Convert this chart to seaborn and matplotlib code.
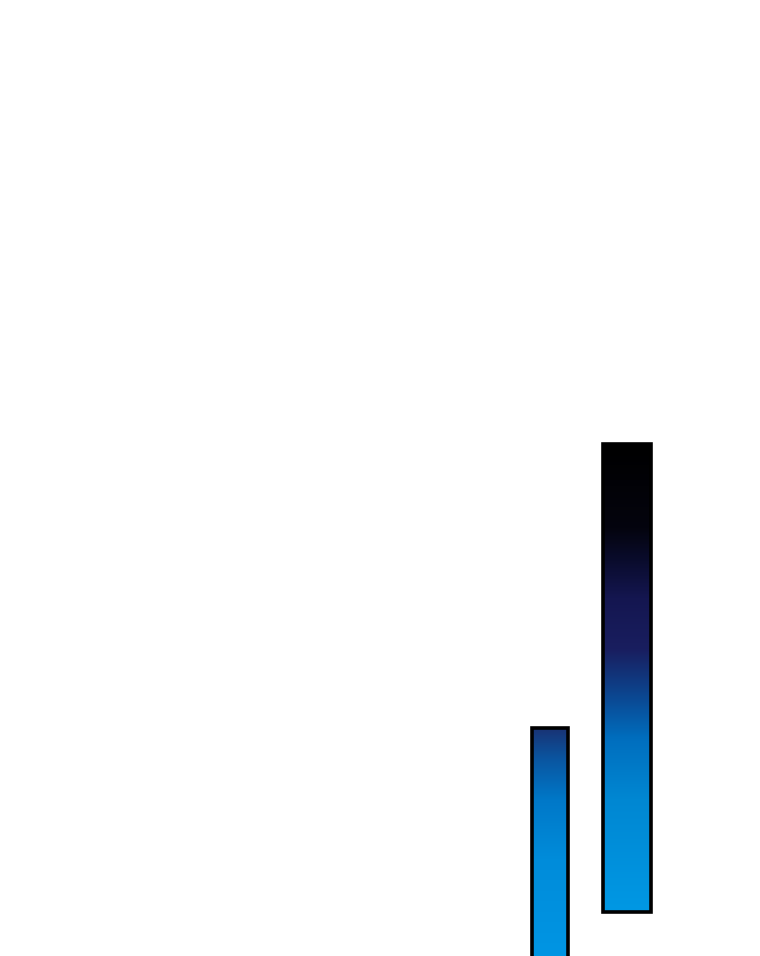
import numpy as np
import matplotlib
matplotlib.use("Agg")
import matplotlib.pyplot as plt
import seaborn as sns
from matplotlib.colors import LinearSegmentedColormap

# Données : barres flottantes (bas / haut)
categories = ["A", "B"]
lows = [-3.0, 4.4]
highs = [22.8, 51.2]

# Style
bar_widths = [0.46, 0.62]
cmap_a = LinearSegmentedColormap.from_list("a", [
    (0.00, (25/255, 50/255, 115/255)),
    (0.12, (10/255, 85/255, 160/255)),
    (0.28, (0/255, 120/255, 200/255)),
    (0.51, (0/255, 140/255, 218/255)),
    (1.00, (0/255, 152/255, 230/255)),
])
cmap_b = LinearSegmentedColormap.from_list("b", [
    (0.00, (0, 0, 0)),
    (0.18, (4/255, 4/255, 14/255)),
    (0.25, (10/255, 12/255, 45/255)),
    (0.33, (20/255, 22/255, 80/255)),
    (0.44, (25/255, 30/255, 95/255)),
    (0.55, (10/255, 75/255, 150/255)),
    (0.63, (0/255, 110/255, 190/255)),
    (0.76, (0/255, 135/255, 210/255)),
    (1.00, (0/255, 152/255, 228/255)),
])
cmaps = [cmap_a, cmap_b]

heights = [h - l for h, l in zip(highs, lows)]

fig = plt.figure(figsize=(7.6, 9.56), dpi=100)
ax = fig.add_axes([0, 0, 1, 1])
sns.barplot(x=categories, y=heights, width=max(bar_widths), ax=ax,
            color="white", edgecolor="black", linewidth=2.6)

grad = np.linspace(0, 1, 256).reshape(-1, 1)
for patch, low, w, cm in zip(ax.patches, lows, bar_widths, cmaps):
    cx = patch.get_x() + patch.get_width() / 2
    patch.set_x(cx - w / 2)
    patch.set_width(w)
    patch.set_y(low)
    patch.set_facecolor("none")
    patch.set_zorder(3)
    x0, y0 = patch.get_x(), patch.get_y()
    im = ax.imshow(grad, cmap=cm, aspect="auto", origin="upper",
                   extent=[x0, x0 + w, y0, y0 + patch.get_height()],
                   interpolation="bilinear", zorder=2)
    im.set_clip_path(patch)

ax.set_xlim(-550 / 77, 210 / 77)
ax.set_ylim(0, 95.6)
ax.axis("off")

plt.savefig("out.png", dpi=100)
plt.close()
